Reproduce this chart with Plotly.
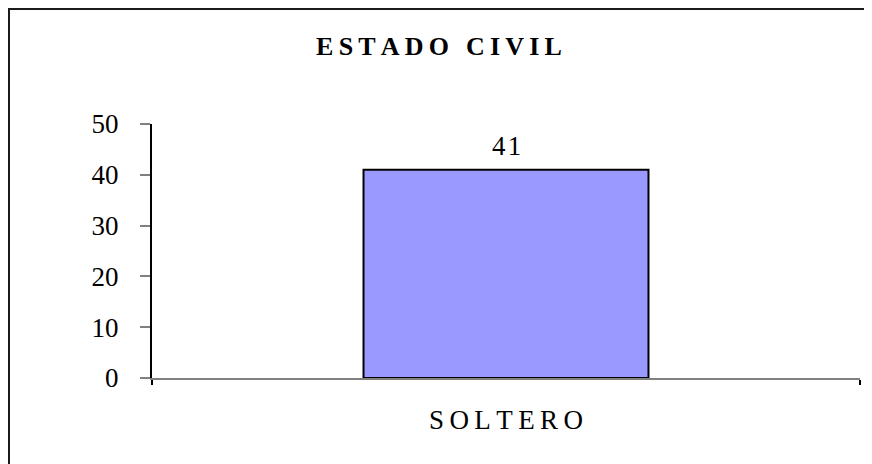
import plotly.graph_objects as go

# ── DATA ────────────────────────────────────────────────────
categories = ["SOLTERO"]
values     = [41]
y_ticks    = [0, 10, 20, 30, 40, 50]
title_text = "ESTADO CIVIL"

SERIF = "Liberation Serif, Times New Roman, serif"

# the page body adds an 8px margin, so layout numbers are shifted by it
OFF = 8
PLOT_L, PLOT_R, PLOT_T, PLOT_B = 152 - OFF, 860 - OFF, 124 - OFF, 378 - OFF
W, H = 872, 464
pw, ph = PLOT_R - PLOT_L, PLOT_B - PLOT_T


def spaced(text, gap):
    # fake letter spacing with narrow unicode spaces
    return gap.join(list(text))


fig = go.Figure()

fig.add_trace(go.Bar(
    x=categories,
    y=values,
    width=0.4025,
    marker=dict(color="#9999FF", line=dict(color="#000000", width=2)),
    hoverinfo="x+y",
))

for c, v in zip(categories, values):
    fig.add_annotation(
        x=c, y=v, text=spaced(str(v), "\u200a"),
        showarrow=False, yanchor="bottom", yshift=7,
        font=dict(family=SERIF, size=27, color="#000000"),
    )

# outer chart frame
fig.add_shape(
    type="rect", xref="paper", yref="paper",
    x0=(1 - PLOT_L) / pw, x1=(W + 20 - PLOT_L) / pw,
    y0=(PLOT_B - H - 20) / ph, y1=(PLOT_B - 1) / ph,
    line=dict(color="#1a1a1a", width=2), layer="below",
)

fig.update_layout(
    width=W, height=H,
    margin=dict(l=PLOT_L, r=W - PLOT_R, t=PLOT_T, b=H - PLOT_B),
    paper_bgcolor="white", plot_bgcolor="white",
    showlegend=False,
    title=dict(
        text="<b>" + spaced(title_text, "\u2009") + "</b>",
        x=(439 - OFF) / W, xanchor="center",
        y=1 - (46 - OFF) / H, yanchor="middle",
        font=dict(family=SERIF, size=26, color="#000000"),
    ),
)

fig.update_xaxes(
    type="category", range=[-0.5, 0.5], tickson="boundaries",
    showline=True, linecolor="#808080", linewidth=2,
    ticks="outside", ticklen=5, tickcolor="#000000", tickwidth=2,
    showgrid=False, zeroline=False,
    tickvals=categories, ticktext=[spaced(c, "\u2009") for c in categories],
    ticklabelstandoff=17,
    tickfont=dict(family=SERIF, size=27, color="#000000"),
)

fig.update_yaxes(
    range=[0, 50], tickvals=y_ticks,
    showline=True, linecolor="#000000", linewidth=2,
    ticks="outside", ticklen=10, tickcolor="#808080", tickwidth=2,
    showgrid=False, zeroline=False,
    ticklabelstandoff=16,
    tickfont=dict(family=SERIF, size=27, color="#000000"),
)

fig.write_html("out.html")
